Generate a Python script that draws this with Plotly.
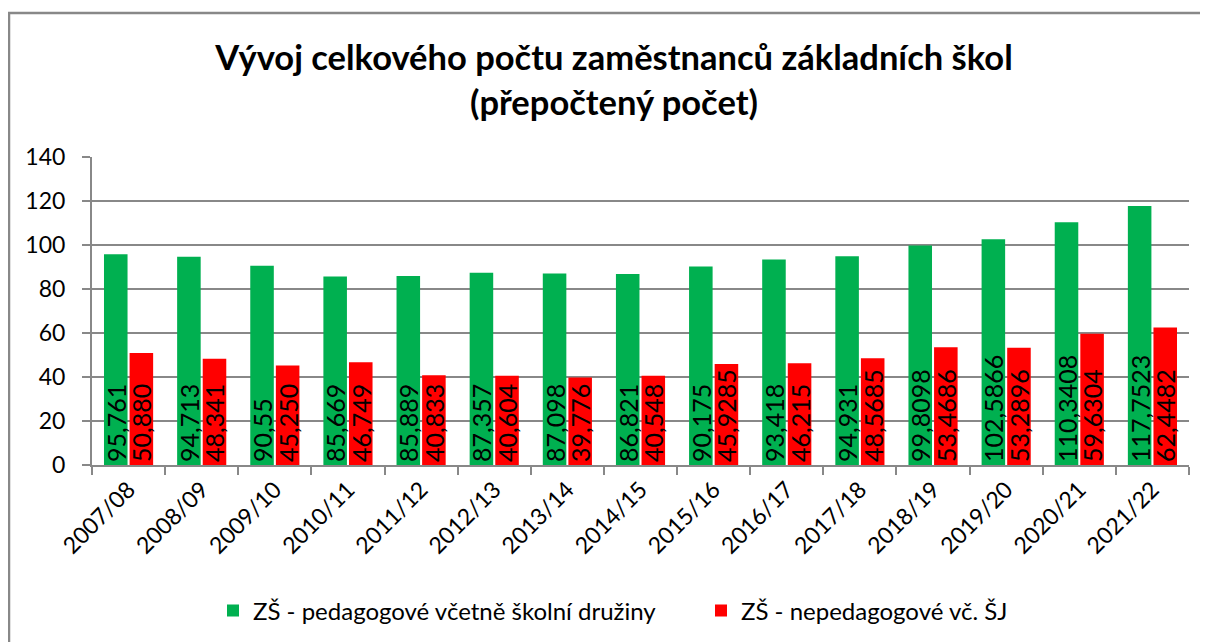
import plotly.graph_objects as go

categories = ["2007/08", "2008/09", "2009/10", "2010/11", "2011/12", "2012/13", "2013/14",
              "2014/15", "2015/16", "2016/17", "2017/18", "2018/19", "2019/20", "2020/21", "2021/22"]
ped_labels = ["95,761", "94,713", "90,55", "85,669", "85,889", "87,357", "87,098", "86,821",
              "90,175", "93,418", "94,931", "99,8098", "102,5866", "110,3408", "117,7523"]
neped_labels = ["50,880", "48,341", "45,250", "46,749", "40,833", "40,604", "39,776", "40,548",
                "45,9285", "46,215", "48,5685", "53,4686", "53,2896", "59,6304", "62,4482"]
ped_values = [float(s.replace(",", ".")) for s in ped_labels]
neped_values = [float(s.replace(",", ".")) for s in neped_labels]

series_names = ["ZŠ - pedagogové včetně školní družiny", "ZŠ - nepedagogové vč. ŠJ"]
y_ticks = [0, 20, 40, 60, 80, 100, 120, 140]

FONT = "Lato"
OFF = 8  # page body margin
W, H = 1200, 634
ml, mr, mt, mb = 92 - OFF, 19, 157 - OFF, 177
pw, ph = W - ml - mr, H - mt - mb

fig = go.Figure()
for vals, labels, name, color in [(ped_values, ped_labels, series_names[0], "#00B050"),
                                  (neped_values, neped_labels, series_names[1], "#FF0000")]:
    fig.add_trace(go.Bar(x=categories, y=vals, name=name, marker_color=color,
                         marker_line_width=0,
                         text=labels, textposition="inside", insidetextanchor="start",
                         textangle=-90, constraintext="none", cliponaxis=False,
                         textfont=dict(family=FONT, size=25, color="black")))

def px_x(p):  # page pixel -> paper x
    return (p - OFF - ml) / pw

def px_y(p):  # page pixel -> paper y
    return (H - mb - (p - OFF)) / ph

fig.add_shape(type="rect", xref="paper", yref="paper",
              x0=px_x(9), x1=px_x(1230), y0=px_y(670), y1=px_y(13),
              line=dict(color="#888888", width=2.5), layer="below")

fig.update_layout(
    width=W, height=H,
    margin=dict(l=ml, r=mr, t=mt, b=mb, autoexpand=False),
    paper_bgcolor="white", plot_bgcolor="white",
    barmode="group", bargap=0.3, bargroupgap=0.08,
    font=dict(family=FONT, color="black"),
    title=dict(text="<b>Vývoj celkového počtu zaměstnanců základních škol<br>(přepočtený počet)</b>",
               x=(614 - OFF) / W, xref="container", xanchor="center", y=1 - 62 / H, yanchor="middle",
               font=dict(family=FONT, size=34.5, color="black")),
    legend=dict(orientation="h", x=px_x(213), xanchor="left", y=px_y(611), yanchor="middle",
                font=dict(family=FONT, size=24), traceorder="normal",
                entrywidth=443, entrywidthmode="pixels", itemwidth=30),
)
fig.update_xaxes(showline=True, linecolor="#888888", linewidth=2, ticks="outside",
                 tickson="boundaries", ticklen=8, tickwidth=2, tickcolor="#888888", tickangle=-45,
                 tickfont=dict(family=FONT, size=23), showgrid=False, automargin=False)
fig.update_yaxes(range=[0, 140], tickvals=y_ticks, showline=True, linecolor="#888888",
                 linewidth=2, ticks="outside", ticklen=8, tickwidth=2, tickcolor="#888888",
                 gridcolor="#888888", gridwidth=1.5, tickfont=dict(family=FONT, size=23),
                 ticklabelstandoff=12, zeroline=False, showgrid=True, automargin=False)

fig.write_html("out.html")
